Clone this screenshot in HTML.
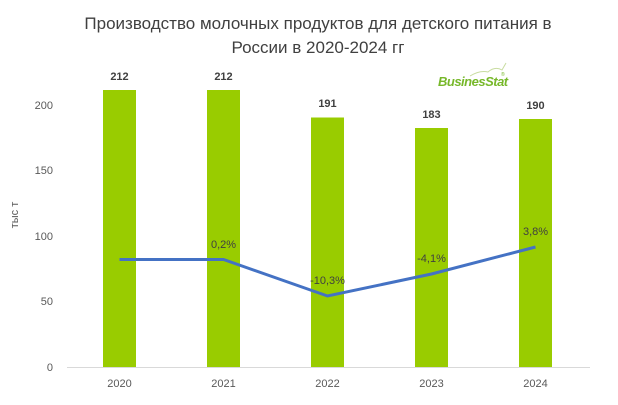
<!DOCTYPE html>
<html><head><meta charset="utf-8"><style>body{margin:0;background:#fff}svg{display:block}</style></head><body>
<svg width="618" height="405" xmlns="http://www.w3.org/2000/svg" font-family="Liberation Sans, sans-serif">
<rect width="618" height="405" fill="#fff"/>
<text x="318" y="29" text-anchor="middle" font-size="17" fill="#404040">Производство молочных продуктов для детского питания в</text>
<text x="318" y="53" text-anchor="middle" font-size="17" fill="#404040">России в 2020-2024 гг</text>
<g font-size="11" fill="#595959" text-anchor="end">
<text x="53" y="371">0</text><text x="53" y="305">50</text><text x="53" y="240">100</text><text x="53" y="174">150</text><text x="53" y="109">200</text>
</g>
<text transform="translate(18,215) rotate(-90)" text-anchor="middle" font-size="11" fill="#595959">тыс т</text>
<line x1="67" y1="367.5" x2="590" y2="367.5" stroke="#d9d9d9"/>
<g fill="#99cc00">
<rect x="103" y="90" width="33" height="277"/>
<rect x="207" y="90" width="33" height="277"/>
<rect x="311" y="117.5" width="33" height="249.5"/>
<rect x="415" y="128" width="33" height="239"/>
<rect x="519" y="119" width="33" height="248"/>
</g>
<g font-size="11" font-weight="bold" fill="#404040" text-anchor="middle">
<text x="119.5" y="80">212</text><text x="223.5" y="80">212</text><text x="327.5" y="107">191</text><text x="431.5" y="118">183</text><text x="535.5" y="109">190</text>
</g>
<polyline points="119.5,259.5 223.5,259.5 327.5,296 431.5,274 535.5,247" fill="none" stroke="#4472c4" stroke-width="3"/>
<g font-size="11" fill="#404040" text-anchor="middle">
<text x="223.5" y="248">0,2%</text><text x="327.5" y="284">-10,3%</text><text x="431.5" y="262">-4,1%</text><text x="535.5" y="235">3,8%</text>
</g>
<g font-size="11" fill="#595959" text-anchor="middle">
<text x="119.5" y="387">2020</text><text x="223.5" y="387">2021</text><text x="327.5" y="387">2022</text><text x="431.5" y="387">2023</text><text x="535.5" y="387">2024</text>
</g>
<path d="M470,76 Q480,70 488,72 Q495,66 502,70 L506,63" fill="none" stroke="#c8dca0" stroke-width="1"/>
<text x="438" y="86" font-size="13" font-weight="bold" font-style="italic" fill="#77b82a" letter-spacing="-0.5">BusinesStat</text>
<text x="501" y="76" font-size="5" fill="#77b82a">®</text>
</svg>
</body></html>
